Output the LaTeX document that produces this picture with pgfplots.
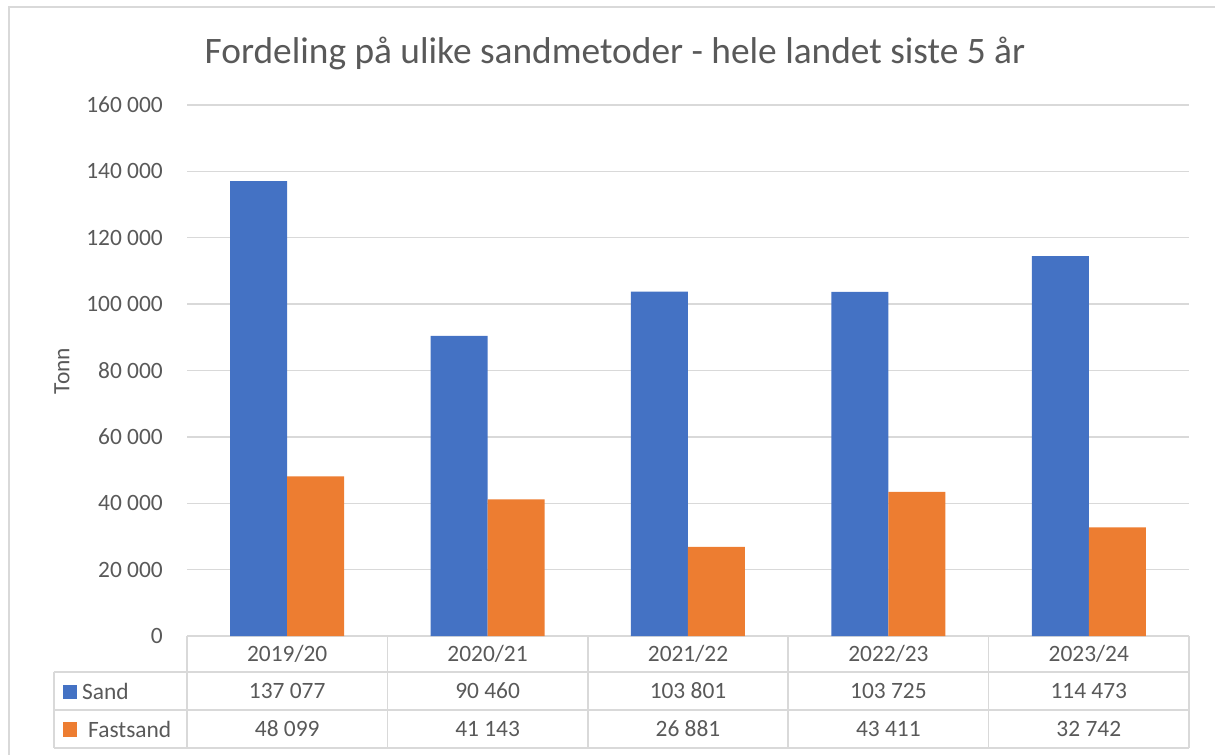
\documentclass[border=0pt]{standalone}
\usepackage{pgfplots}
\pgfplotsset{compat=1.18}
\usepackage{fontspec}
\setmainfont{Carlito}
\definecolor{sandblue}{HTML}{4472C4}
\definecolor{fastorange}{HTML}{ED7D31}
\definecolor{txt}{HTML}{595959}
\definecolor{gridc}{HTML}{D9D9D9}
\newcommand{\fs}{\fontsize{23.5}{28}\selectfont}
\begin{document}
\begin{tikzpicture}
\begin{axis}[
 scale only axis, width=1002bp, height=531bp,
 xmin=-0.5, xmax=4.5, ymin=0, ymax=160000,
 ybar=0pt, bar width=57bp,
 axis line style={draw=none}, major tick length=0pt,
 xtick=\empty, scaled y ticks=false,
 ytick={0,20000,40000,60000,80000,100000,120000,140000,160000},
 yticklabels={0,20 000,40 000,60 000,80 000,100 000,120 000,140 000,160 000},
 yticklabel style={font=\fs, text=txt, inner sep=0pt, anchor=east, xshift=-24bp},
 ymajorgrids, grid style={gridc, line width=1.5bp},
 clip=false,
]
\addplot[fill=sandblue, draw=none] coordinates {(0,137077) (1,90460) (2,103801) (3,103725) (4,114473)};
\addplot[fill=fastorange, draw=none] coordinates {(0,48099) (1,41143) (2,26881) (3,43411) (4,32742)};
\coordinate (bl) at (rel axis cs:0,0);
\end{axis}
\begin{scope}[shift={([xshift=-187bp,yshift=636bp]bl)}, x=1bp, y=-1bp]
 \draw[gridc, line width=1.5bp] (9,755) -- (9,7) -- (1215,7);
 \foreach \xx in {187,387.4,587.8,788.2,988.6,1189} {\draw[gridc, line width=1.5bp] (\xx,636) -- (\xx,748);}
 \draw[gridc, line width=1.5bp] (54,672) -- (1189,672) (54,710) -- (1189,710) (54,748) -- (1189,748) (54,672) -- (54,748);
 \begin{scope}[every node/.style={font=\fs, text=txt, inner sep=0pt}]
  \foreach \lab [count=\i from 0] in {2019/20,2020/21,2021/22,2022/23,2023/24} {\node at (287.2+200.4*\i, 654) {\lab};}
  \foreach \lab [count=\i from 0] in {137 077,90 460,103 801,103 725,114 473} {\node at (287.2+200.4*\i, 691) {\lab};}
  \foreach \lab [count=\i from 0] in {48 099,41 143,26 881,43 411,32 742} {\node at (287.2+200.4*\i, 729) {\lab};}
  \fill[sandblue] (63,685) rectangle (77,699);
  \fill[fastorange] (63,722) rectangle (77,737);
  \node[anchor=west] at (82,691) {Sand};
  \node[anchor=west] at (88,729) {Fastsand};
  \node[rotate=90] at (62,371) {Tonn};
  \node[font=\fontsize{37.5}{45}\selectfont] at (615,53) {Fordeling på ulike sandmetoder - hele landet siste 5 år};
 \end{scope}
 \pgfresetboundingbox
 \useasboundingbox (0,0) rectangle (1215,755);
\end{scope}
\end{tikzpicture}
\end{document}
